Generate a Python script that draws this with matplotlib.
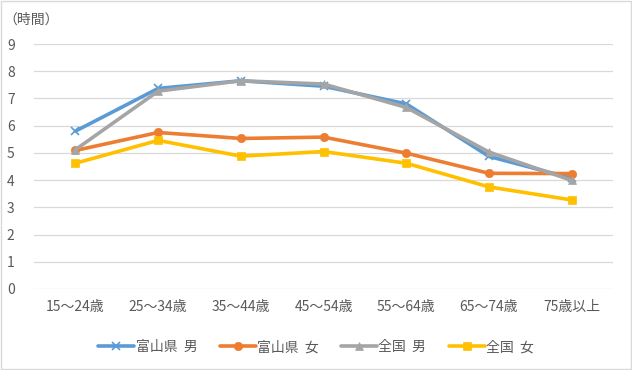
import matplotlib.pyplot as plt
from matplotlib.patches import Rectangle

plt.rcParams['font.family'] = ['Noto Sans CJK JP', 'DejaVu Sans']

categories = ['15～24歳', '25～34歳', '35～44歳', '45～54歳', '55～64歳', '65～74歳', '75歳以上']
toyama_m = [5.8, 7.37, 7.65, 7.45, 6.8, 4.87, 4.07]
toyama_f = [5.09, 5.75, 5.53, 5.58, 4.99, 4.25, 4.24]
zenkoku_m = [5.12, 7.27, 7.65, 7.53, 6.67, 5.03, 3.99]
zenkoku_f = [4.62, 5.46, 4.88, 5.05, 4.62, 3.75, 3.27]

series = [
    ('富山県  男', toyama_m, '#5b9bd5', 'x'),
    ('富山県  女', toyama_f, '#ed7d31', 'o'),
    ('全国  男', zenkoku_m, '#a5a5a5', '^'),
    ('全国  女', zenkoku_f, '#ffc000', 's'),
]

fig = plt.figure(figsize=(6.32, 3.70), dpi=100)
ax = fig.add_axes([0.054, 0.219, 0.916, 0.662])

x = range(len(categories))
for label, vals, color, marker in series:
    ax.plot(x, vals, color=color, lw=2.6, marker=marker, markersize=6,
            markeredgewidth=1.2 if marker == 'x' else 0.5, label=label,
            solid_capstyle='round')

ax.set_ylim(0, 9)
ax.set_xlim(-0.5, len(categories) - 0.5)
ax.set_yticks(range(0, 10))
ax.set_xticks(list(x))
ax.set_xticklabels(categories)
ax.grid(axis='y', color='#d9d9d9', lw=0.9)
ax.set_axisbelow(True)
for s in ax.spines.values():
    s.set_visible(False)
ax.tick_params(length=0, colors='#595959', labelsize=10)
ax.tick_params(axis='y', pad=14)
ax.tick_params(axis='x', pad=8)

fig.text(0.006, 0.948, '（時間）', fontsize=10, color='#595959', va='center')

leg = fig.legend(loc='center', bbox_to_anchor=(0.5, 0.062), ncol=4, frameon=False,
                 fontsize=10, handlelength=2.6, columnspacing=1.6, handletextpad=0.1,
                 labelcolor='#595959')

fig.add_artist(Rectangle((0.001, 0.002), 0.997, 0.995, transform=fig.transFigure,
                         fill=False, edgecolor='#d9d9d9', lw=1))

fig.savefig('out.png', dpi=100)
